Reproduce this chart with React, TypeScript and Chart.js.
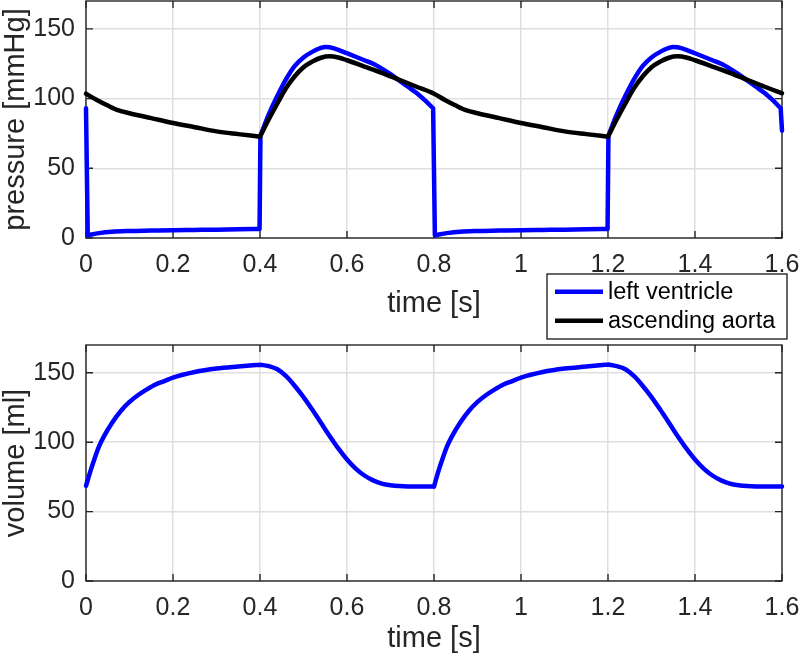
import React, { useEffect, useRef } from 'react';
import { Chart, registerables } from 'chart.js';

Chart.register(...registerables);

// ---------- data ----------
const timeTicks = [0, 0.2, 0.4, 0.6, 0.8, 1.0, 1.2, 1.4, 1.6];
const pressureTicks = [0, 50, 100, 150];
const volumeTicks = [0, 50, 100, 150];
const seriesLabels = ['left ventricle', 'ascending aorta'];

// left ventricle pressure [mmHg]
const lvTime = [
  0, 0.004, 0.03, 0.06, 0.1, 0.15, 0.2, 0.25, 0.3, 0.35, 0.399,
  0.401, 0.42, 0.44, 0.46, 0.48, 0.5, 0.52, 0.54, 0.55, 0.56, 0.58, 0.6, 0.62, 0.64, 0.66, 0.68, 0.7, 0.72, 0.74, 0.76, 0.78, 0.798,
  0.802, 0.83, 0.86, 0.9, 0.95, 1.0, 1.05, 1.1, 1.15, 1.199,
  1.201, 1.22, 1.24, 1.26, 1.28, 1.3, 1.32, 1.34, 1.35, 1.36, 1.38, 1.4, 1.42, 1.44, 1.46, 1.48, 1.5, 1.52, 1.54, 1.56, 1.58, 1.597,
  1.6,
];
const lvPressure = [
  93, 2, 3.5, 4.5, 5, 5.3, 5.6, 5.8, 6, 6.3, 6.5,
  73.5, 88.5, 102, 114, 123.5, 129.5, 133.5, 136.3, 137, 136.8, 135, 132.5, 130, 127.5, 125, 121.5, 117.5, 113, 108.5, 104, 98.5, 93,
  2, 3.5, 4.5, 5, 5.3, 5.6, 5.8, 6, 6.3, 6.5,
  73.5, 88.5, 102, 114, 123.5, 129.5, 133.5, 136.3, 137, 136.8, 135, 132.5, 130, 127.5, 125, 121.5, 117.5, 113, 108.5, 104, 98.5, 93,
  77,
];
// times where the curve has a sharp corner or a vertical jump
const lvCorners = [0.004, 0.399, 0.401, 0.798, 0.802, 1.199, 1.201, 1.597];

// ascending aorta pressure [mmHg]
const aoTime = [
  0, 0.025, 0.05, 0.075, 0.1, 0.15, 0.2, 0.25, 0.3, 0.35, 0.4,
  0.42, 0.44, 0.46, 0.48, 0.5, 0.52, 0.54, 0.56, 0.58, 0.6, 0.64, 0.68, 0.72, 0.76,
  0.8, 0.825, 0.85, 0.875, 0.9, 0.95, 1.0, 1.05, 1.1, 1.15, 1.2,
  1.22, 1.24, 1.26, 1.28, 1.3, 1.32, 1.34, 1.36, 1.38, 1.4, 1.44, 1.48, 1.52, 1.56, 1.6,
];
const aoPressure = [
  103.5, 99, 95, 91.5, 89.5, 86, 82.5, 79.5, 76.5, 74.5, 72.7,
  85, 96.5, 107.5, 116, 122.5, 126.5, 129.3, 130.3, 129.5, 127.5, 123, 118.5, 113.5, 108.5,
  103.5, 99, 95, 91.5, 89.5, 86, 82.5, 79.5, 76.5, 74.5, 72.7,
  85, 96.5, 107.5, 116, 122.5, 126.5, 129.3, 130.3, 129.5, 127.5, 123, 118.5, 113.5, 108.5, 103.8,
];
const aoCorners = [0.4, 1.2];

// left ventricle volume [ml]
const volTime = [
  0, 0.01, 0.02, 0.03, 0.04, 0.06, 0.08, 0.1, 0.12, 0.14, 0.16, 0.18, 0.2, 0.25, 0.3, 0.35, 0.4,
  0.42, 0.44, 0.46, 0.48, 0.5, 0.52, 0.54, 0.56, 0.58, 0.6, 0.62, 0.64, 0.66, 0.68, 0.7, 0.72, 0.76,
  0.8, 0.81, 0.82, 0.83, 0.84, 0.86, 0.88, 0.9, 0.92, 0.94, 0.96, 0.98, 1.0, 1.05, 1.1, 1.15, 1.2,
  1.22, 1.24, 1.26, 1.28, 1.3, 1.32, 1.34, 1.36, 1.38, 1.4, 1.42, 1.44, 1.46, 1.48, 1.5, 1.52, 1.56, 1.6,
];
const volume = [
  68.5, 79, 88.5, 97, 103.5, 114, 122.5, 129, 134, 138, 141.5, 144, 146.5, 150.5, 153, 154.5, 155.8,
  154.8, 152.5, 147.5, 140.5, 132.5, 123.5, 114, 104.5, 95.5, 87.5, 81, 76, 72.5, 70.2, 69, 68.4, 68,
  68, 79, 88.5, 97, 103.5, 114, 122.5, 129, 134, 138, 141.5, 144, 146.5, 150.5, 153, 154.5, 156,
  154.8, 152.5, 147.5, 140.5, 132.5, 123.5, 114, 104.5, 95.5, 87.5, 81, 76, 72.5, 70.2, 69, 68.4, 68, 68,
];
const volCorners = [0.4, 0.8, 1.2];

// ---------- styling ----------
const FONT = '"Liberation Sans", Arial, Helvetica, sans-serif';
const AXIS_COLOR = '#262626';
const GRID_COLOR = '#dfdfdf';
const BLUE = '#0000ff';
const BLACK = '#000000';
const LINE_W = 4.5;

// Build {x,y} points; at corner times the point is repeated around a gap so that
// the smooth (monotone) interpolation is split there and the corner stays sharp.
function toXY(xs: number[], ys: number[], corners: number[]) {
  const out: { x: number; y: number | null }[] = [];
  xs.forEach((x, i) => {
    out.push({ x, y: ys[i] });
    if (corners.some((c) => Math.abs(c - x) < 1e-9) && i > 0 && i < xs.length - 1) {
      out.push({ x, y: null });
      out.push({ x, y: ys[i] });
    }
  });
  return out;
}

const boxPlugin = {
  id: 'matlabBox',
  beforeDatasetsDraw(chart: any) {
    const { ctx, chartArea: a, scales } = chart;
    const tl = 7;
    ctx.save();
    ctx.strokeStyle = AXIS_COLOR;
    ctx.lineWidth = 1.4;
    ctx.beginPath();
    scales.x.ticks.forEach((t: any) => {
      const px = scales.x.getPixelForValue(t.value);
      ctx.moveTo(px, a.bottom); ctx.lineTo(px, a.bottom - tl);
      ctx.moveTo(px, a.top); ctx.lineTo(px, a.top + tl);
    });
    scales.y.ticks.forEach((t: any) => {
      const py = scales.y.getPixelForValue(t.value);
      ctx.moveTo(a.left, py); ctx.lineTo(a.left + tl, py);
      ctx.moveTo(a.right, py); ctx.lineTo(a.right - tl, py);
    });
    ctx.stroke();
    ctx.strokeRect(a.left, a.top, a.right - a.left, a.bottom - a.top);
    ctx.restore();
  },
};

const legendPlugin = {
  id: 'boxLegend',
  afterDraw(chart: any) {
    const opts = chart.options.plugins.boxLegend;
    if (!opts || !opts.show) return;
    const { ctx } = chart;
    const x0 = 547, y0 = 274, w = 240, h = 65;
    ctx.save();
    ctx.fillStyle = '#ffffff';
    ctx.fillRect(x0, y0, w, h);
    ctx.strokeStyle = AXIS_COLOR;
    ctx.lineWidth = 1.4;
    ctx.strokeRect(x0, y0, w, h);
    chart.data.datasets.forEach((ds: any, i: number) => {
      const cy = y0 + 17.7 + i * 29;
      ctx.strokeStyle = ds.borderColor;
      ctx.lineWidth = LINE_W;
      ctx.lineCap = 'butt';
      ctx.beginPath();
      ctx.moveTo(555, cy);
      ctx.lineTo(603, cy);
      ctx.stroke();
      ctx.fillStyle = '#000000';
      ctx.font = `23.5px ${FONT}`;
      ctx.textBaseline = 'middle';
      ctx.textAlign = 'left';
      ctx.fillText(ds.label, 608, cy + 1);
    });
    ctx.restore();
  },
};

function makeScales(yTitle: string, yTicks: number[], xAxisHeight: number, xTitlePad: number) {
  return {
    x: {
      type: 'linear',
      min: 0,
      max: 1.6,
      afterBuildTicks: (s: any) => { s.ticks = timeTicks.map((v) => ({ value: v })); },
      afterFit: (s: any) => {
        s.height = xAxisHeight;
        s.paddingLeft = 0; s.paddingRight = 0; s.paddingTop = 0; s.paddingBottom = 0;
      },
      grid: { color: GRID_COLOR, lineWidth: 1.5, drawTicks: false },
      border: { display: false },
      ticks: {
        padding: 12,
        color: AXIS_COLOR,
        font: { family: FONT, size: 25 },
        maxRotation: 0,
        autoSkip: false,
        callback: (v: number) => String(Number(Number(v).toFixed(1))),
      },
      title: {
        display: true,
        text: 'time [s]',
        color: AXIS_COLOR,
        font: { family: FONT, size: 29, lineHeight: 1 },
        padding: { top: 0, bottom: xTitlePad },
      },
    },
    y: {
      type: 'linear',
      min: 0,
      max: 170,
      afterBuildTicks: (s: any) => { s.ticks = yTicks.map((v) => ({ value: v })); },
      afterFit: (s: any) => {
        s.width = 86;
        s.paddingLeft = 0; s.paddingRight = 0; s.paddingTop = 0; s.paddingBottom = 0;
      },
      grid: { color: GRID_COLOR, lineWidth: 1.5, drawTicks: false },
      border: { display: false },
      ticks: {
        padding: 11,
        color: AXIS_COLOR,
        font: { family: FONT, size: 25 },
        autoSkip: false,
      },
      title: {
        display: true,
        text: yTitle,
        color: AXIS_COLOR,
        font: { family: FONT, size: 29, lineHeight: 1 },
        padding: { top: 1, bottom: 0 },
      },
    },
  };
}

const lineStyle = {
  borderWidth: LINE_W,
  pointRadius: 0,
  cubicInterpolationMode: 'monotone',
  borderCapStyle: 'round',
  borderJoinStyle: 'round',
  spanGaps: false,
  clip: false,
};

export default function App() {
  const topRef = useRef<HTMLCanvasElement>(null);
  const botRef = useRef<HTMLCanvasElement>(null);

  useEffect(() => {
    const top = new Chart(topRef.current as HTMLCanvasElement, {
      type: 'line',
      data: {
        datasets: [
          {
            ...lineStyle,
            label: seriesLabels[0],
            data: toXY(lvTime, lvPressure, lvCorners),
            borderColor: BLUE,
            order: 1,
          },
          {
            ...lineStyle,
            label: seriesLabels[1],
            data: toXY(aoTime, aoPressure, aoCorners),
            borderColor: BLACK,
            order: 0,
          },
        ],
      } as any,
      options: {
        responsive: false,
        animation: false,
        layout: { padding: { left: 0, right: 18, top: 1, bottom: 0 } },
        plugins: { legend: { display: false }, tooltip: { enabled: false }, boxLegend: { show: true } } as any,
        scales: makeScales('pressure [mmHg]', pressureTicks, 102, 22) as any,
      },
      plugins: [boxPlugin, legendPlugin],
    });

    const bot = new Chart(botRef.current as HTMLCanvasElement, {
      type: 'line',
      data: {
        datasets: [
          {
            ...lineStyle,
            label: 'volume',
            data: toXY(volTime, volume, volCorners),
            borderColor: BLUE,
          },
        ],
      } as any,
      options: {
        responsive: false,
        animation: false,
        layout: { padding: { left: 0, right: 18, top: 5, bottom: 0 } },
        plugins: { legend: { display: false }, tooltip: { enabled: false } } as any,
        scales: makeScales('volume [ml]', volumeTicks, 75, 3) as any,
      },
      plugins: [boxPlugin],
    });

    return () => {
      top.destroy();
      bot.destroy();
    };
  }, []);

  return (
    <div style={{ position: 'fixed', left: 0, top: 0, width: 800, height: 656, background: '#ffffff' }}>
      <canvas ref={botRef} width={800} height={316} style={{ position: 'absolute', left: 0, top: 340, width: 800, height: 316 }} />
      <canvas ref={topRef} width={800} height={340} style={{ position: 'absolute', left: 0, top: 0, width: 800, height: 340 }} />
    </div>
  );
}
